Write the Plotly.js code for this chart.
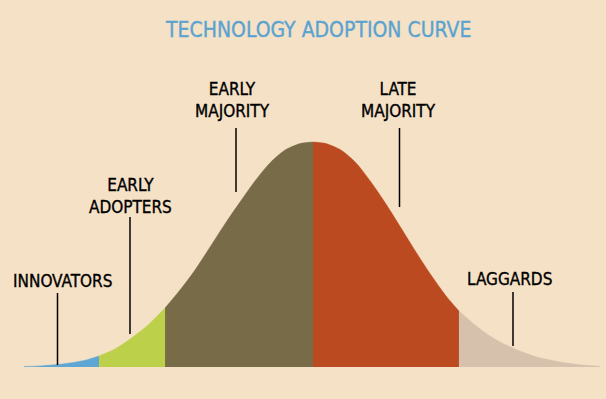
<!DOCTYPE html>
<html>
<head>
<meta charset="utf-8">
<script src="https://cdn.plot.ly/plotly-3.0.1.min.js"></script>
<style>
  html, body { margin: 0; padding: 0; background: #f5e1c6; }
  #chart { width: 606px; height: 399px; }
  .annotation-text { paint-order: stroke; }
</style>
</head>
<body>
<div id="chart"></div>
<script>
// Curve: position in standard deviations, height as % of peak
const curveX = [-3.211, -3.033, -2.867, -2.700, -2.533, -2.378, -2.200, -2.033, -1.833, -1.644,
                -1.478, -1.311, -1.144, -0.978, -0.811, -0.644, -0.478, -0.311, -0.144, 0.000,
                0.144, 0.311, 0.478, 0.644, 0.811, 0.978, 1.144, 1.311, 1.478, 1.622,
                1.800, 1.967, 2.133, 2.300, 2.467, 2.633, 2.800, 2.967, 3.189];
const curveY = [0.2, 0.5, 1.0, 1.8, 3.0, 4.9, 8.0, 12.4, 18.7, 26.2,
                34.2, 43.1, 53.3, 63.6, 73.3, 82.7, 90.7, 96.4, 99.3, 100.0,
                99.3, 96.4, 90.7, 82.2, 72.4, 61.8, 51.1, 40.9, 31.6, 24.9,
                18.7, 13.8, 10.0, 7.1, 4.7, 3.1, 1.9, 1.0, 0.3];

// Segment names and boundaries (in the same x units)
const segmentNames = ["INNOVATORS", "EARLY<br>ADOPTERS", "EARLY<br>MAJORITY", "LATE<br>MAJORITY", "LAGGARDS"];
const segmentBounds = [-3.211, -2.378, -1.644, 0.000, 1.622, 3.189];
const segmentColors = ["#5ea7d4", "#bdd04a", "#776b48", "#bc4a20", "#d6c1ad"];

const W = 606, H = 399;
const px = v => v / W;
const py = v => 1 - v / H;

const traces = segmentNames.map((name, i) => {
  const lo = segmentBounds[i], hi = segmentBounds[i + 1];
  const xs = [], ys = [];
  curveX.forEach((x, k) => {
    if (x >= lo - 1e-9 && x <= hi + 1e-9) { xs.push(x); ys.push(curveY[k]); }
  });
  return {
    type: "scatter", mode: "lines", x: xs, y: ys, name: name.replace("<br>", " "),
    fill: "tozeroy", fillcolor: segmentColors[i],
    line: { color: segmentColors[i], width: 0.5, shape: "spline", smoothing: 0.8 },
    hoverinfo: "skip", showlegend: false
  };
});

// Label layout (pixel positions)
const labelPos = [
  { x: 62, y: 280.5 },
  { x: 130.5, y: 196 },
  { x: 232.5, y: 99.5 },
  { x: 398, y: 99.5 },
  { x: 509.5, y: 279 }
];
const leaders = [
  { x: 57.5, y0: 293, y1: 365 },
  { x: 130, y0: 217, y1: 334 },
  { x: 236, y0: 128, y1: 192 },
  { x: 399.5, y0: 128, y1: 207 },
  { x: 513, y0: 292, y1: 346 }
];

const annotations = segmentNames.map((name, i) => ({
  xref: "paper", yref: "paper", x: px(labelPos[i].x), y: py(labelPos[i].y),
  xanchor: "center", yanchor: "middle", showarrow: false, text: name,
  font: { family: "DejaVu Sans Condensed, DejaVu Sans", size: 17, color: "#000000" }
}));
annotations.push({
  xref: "paper", yref: "paper", x: px(318), y: py(30), xanchor: "center", yanchor: "middle",
  showarrow: false, text: "TECHNOLOGY ADOPTION CURVE",
  font: { family: "DejaVu Sans Condensed, DejaVu Sans", size: 21, color: "#5aa3d1" }
});

const shapes = leaders.map(l => ({
  type: "line", xref: "paper", yref: "paper",
  x0: px(l.x), x1: px(l.x), y0: py(l.y0), y1: py(l.y1),
  line: { color: "#000000", width: 1.5 }
}));

const layout = {
  width: W, height: H,
  margin: { l: 0, r: 0, t: 0, b: 0, pad: 0 },
  paper_bgcolor: "#f5e1c6", plot_bgcolor: "#f5e1c6",
  xaxis: { range: [(0 - 313) / 90, (606 - 313) / 90], visible: false, fixedrange: true },
  yaxis: { range: [-(399 - 367) / 2.25, 367 / 2.25], visible: false, fixedrange: true },
  showlegend: false,
  annotations: annotations,
  shapes: shapes
};

Plotly.newPlot("chart", traces, layout, { displayModeBar: false, staticPlot: true }).then(() => {
  // Slightly heavier strokes on text, like the medium-weight lettering of the original
  document.querySelectorAll(".annotation-text").forEach(t => {
    const fill = t.style.fill || t.getAttribute("fill") || "#000";
    t.style.stroke = fill;
    t.style.strokeWidth = "0.35px";
  });
});
</script>
</body>
</html>
